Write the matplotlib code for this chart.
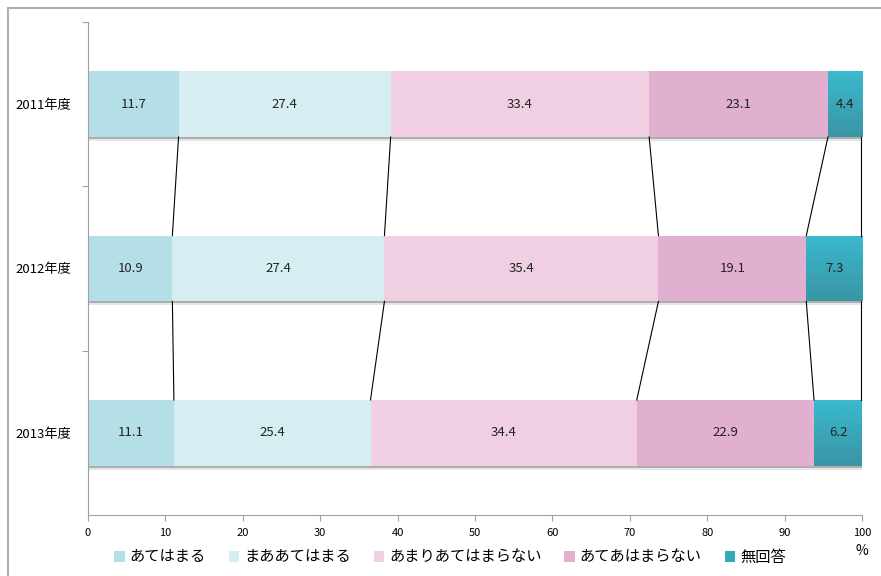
import matplotlib
matplotlib.use("Agg")
import matplotlib.pyplot as plt
import numpy as np
from matplotlib.patches import Rectangle
from matplotlib.lines import Line2D
from matplotlib.colors import LinearSegmentedColormap

plt.rcParams['font.family'] = ['Noto Sans CJK JP', 'DejaVu Sans']

years = ["2011年度", "2012年度", "2013年度"]
categories = ["あてはまる", "まああてはまる", "あまりあてはまらない", "あてあはまらない", "無回答"]
v_2011 = [11.7, 27.4, 33.4, 23.1, 4.4]
v_2012 = [10.9, 27.4, 35.4, 19.1, 7.3]
v_2013 = [11.1, 25.4, 34.4, 22.9, 6.2]
values = [v_2011, v_2012, v_2013]
colors = ["#b5dfe7", "#d6eef2", "#f0cfe2", "#e1afcf", "#35a8bd"]
x_ticks = [0, 10, 20, 30, 40, 50, 60, 70, 80, 90, 100]

fig = plt.figure(figsize=(8.81, 5.76), dpi=100)
ax = fig.add_axes([88/881, 1-515/576, (862-88)/881, (515-22)/576])

# outer chart frame (top and left edges visible)
fig.add_artist(Line2D([8/881, 1.0], [1-8/576, 1-8/576], color="#b0b0b0", lw=1.5,
                      transform=fig.transFigure))
fig.add_artist(Line2D([8/881, 8/881], [0.0, 1-8/576], color="#b0b0b0", lw=1.5,
                      transform=fig.transFigure))

ypos = [2, 1, 0]
h = 0.4
cmap = LinearSegmentedColormap.from_list("g", ["#3ab9cd", "#3a95a6"])
for yi, vals in zip(ypos, values):
    left = 0
    total = sum(vals)
    # subtle shadow under the bar
    ax.add_patch(Rectangle((0, yi - h/2 - 0.012), min(total, 100), 0.012,
                           facecolor="#9a9a9a", edgecolor="none", zorder=1, alpha=0.8))
    ax.add_patch(Rectangle((0, yi - h/2 - 0.024), min(total, 100), 0.012,
                           facecolor="#e6e6e6", edgecolor="none", zorder=1))
    for ci, v in enumerate(vals):
        if ci == 4:
            bars = ax.barh(yi, v, left=left, height=h, color="none", edgecolor="none", zorder=2)
            grad = np.linspace(0, 1, 100).reshape(-1, 1)
            im = ax.imshow(grad, extent=(left, left+v, yi-h/2, yi+h/2), cmap=cmap,
                           aspect="auto", origin="upper", zorder=2)
            im.set_clip_path(bars[0])
        else:
            ax.barh(yi, v, left=left, height=h, color=colors[ci], edgecolor="none", zorder=2)
        ax.text(left + v/2, yi, f"{v}", ha="center", va="center", fontsize=9.5,
                color="#222222", zorder=3)
        left += v

# connector lines
for (y_up, vu), (y_lo, vl) in zip(zip(ypos[:-1], values[:-1]), zip(ypos[1:], values[1:])):
    cu = np.cumsum(vu)
    cl = np.cumsum(vl)
    for a, b in zip(cu, cl):
        ax.plot([min(a, 99.9), min(b, 99.9)], [y_up - h/2, y_lo + h/2], color="black",
                lw=0.8, zorder=2, clip_on=False)

ax.set_xlim(0, 100)
ax.set_ylim(-0.5, 2.5)
ax.set_xticks(x_ticks)
ax.set_xticklabels([str(t) for t in x_ticks], fontsize=8)
ax.set_yticks([0.5, 1.5, 2.5])
ax.set_yticklabels([])
ax.set_yticks(ypos, minor=True)
ax.set_yticklabels(years, minor=True, fontsize=9.5)
ax.tick_params(axis="y", which="minor", length=0, pad=12)
ax.tick_params(axis="y", which="major", length=4, color="#a0a0a0")
ax.tick_params(axis="x", length=4, color="#a0a0a0", pad=5)
for s in ["top", "right"]:
    ax.spines[s].set_visible(False)
ax.spines["left"].set_color("#a0a0a0")
ax.spines["bottom"].set_color("#a0a0a0")

fig.text(862/881, 1-551/576, "%", ha="center", va="center", fontsize=10)

handles = [Rectangle((0, 0), 1, 1, facecolor=c, edgecolor="none") for c in colors]
fig.legend(handles, categories, loc="center", bbox_to_anchor=(450/881, 1-557/576),
           ncol=5, frameon=False, fontsize=11, handlelength=0.7, handleheight=0.7,
           handletextpad=0.3, columnspacing=1.5)

fig.savefig("out.png", dpi=100)
